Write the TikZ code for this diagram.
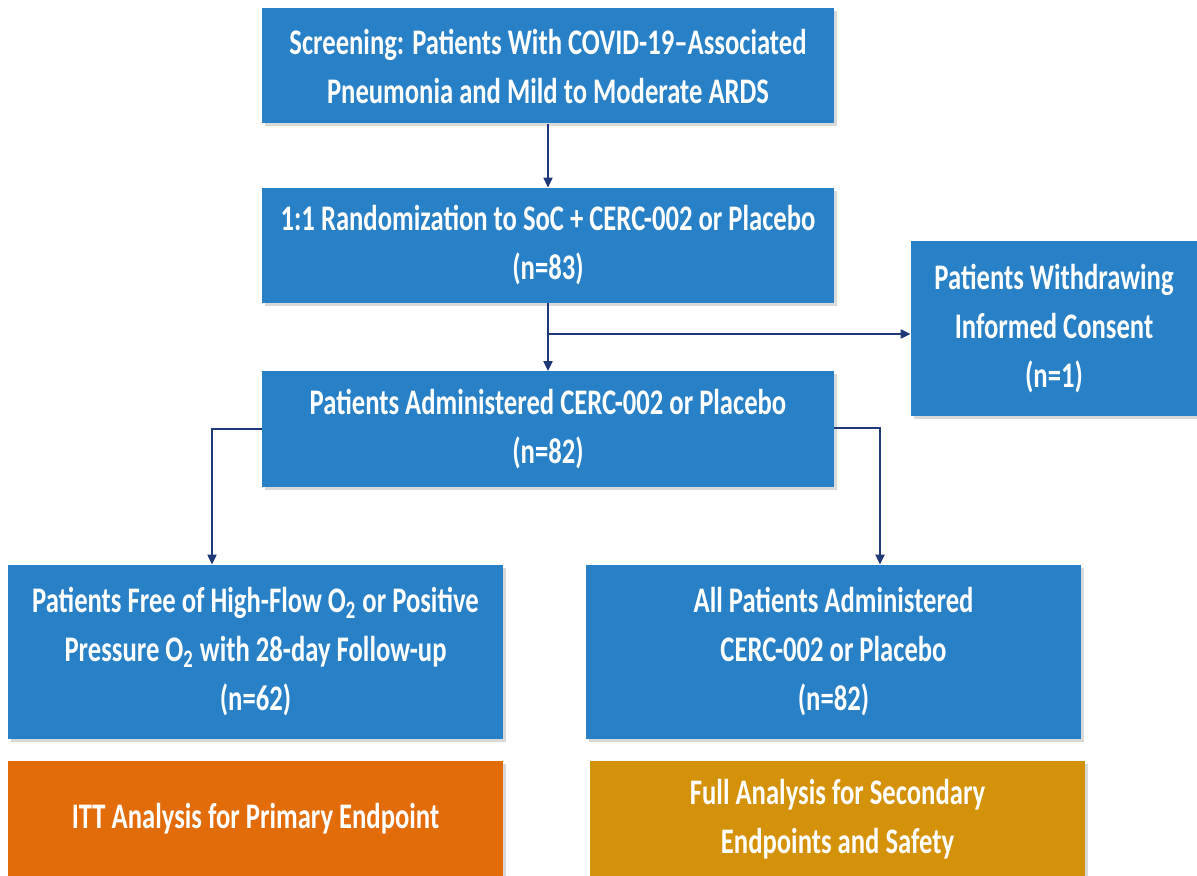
\documentclass[tikz,border=0pt]{standalone}
\usepackage{fontspec}
\setmainfont[FakeStretch=0.74]{Carlito}
\usetikzlibrary{arrows.meta,shadows}
\definecolor{boxblue}{RGB}{40,129,198}
\definecolor{ittorange}{RGB}{227,108,10}
\definecolor{fullgold}{RGB}{212,146,10}
\definecolor{arrnavy}{RGB}{31,56,120}
\begin{document}
\begin{tikzpicture}[x=0.5pt,y=-0.5pt,
	every node/.style={fill=boxblue,text=white,align=center,inner sep=0pt,
		font=\fontsize{18}{24.5}\selectfont\bfseries,
		drop shadow={shadow xshift=1.5pt,shadow yshift=-1.5pt,opacity=0.3}},
	wide/.style={minimum width=286pt,minimum height=57.5pt},
	half/.style={minimum width=247.5pt,minimum height=87pt},
	low/.style={minimum width=247.5pt,minimum height=58pt},
	arr/.style={draw=arrnavy,line width=1pt,-{Triangle[length=5pt,width=4.5pt]}}]
	\useasboundingbox (0,0) rectangle (1197,876);
	\node[wide] (scr) at (548,66) {Screening: Patients With COVID-19--Associated\\Pneumonia and Mild to Moderate ARDS};
	\node[wide] (rand) at (548,245.5) {1:1 Randomization to SoC + CERC-002 or Placebo\\(n=83)};
	\node[wide] (adm) at (548,429) {Patients Administered CERC-002 or Placebo\\(n=82)};
	\node[minimum width=143pt,minimum height=87.5pt] (wd) at (1054,328.5) {Patients Withdrawing\\Informed Consent\\(n=1)};
	\node[half] (free) at (255.5,652) {Patients Free of High-Flow O\textsubscript{2} or Positive\\Pressure O\textsubscript{2} with 28-day Follow-up\\(n=62)};
	\node[half] (all) at (833.5,652) {All Patients Administered\\CERC-002 or Placebo\\(n=82)};
	\node[low,fill=ittorange] (itt) at (255.5,819) {ITT Analysis for Primary Endpoint};
	\node[low,fill=fullgold] (full) at (837.5,819) {Full Analysis for Secondary\\Endpoints and Safety};

	\coordinate (br) at (548,334);
	\draw[arr] (scr) -- (rand);
	\draw[arr] (rand) -- (adm);
	\draw[arr] (br) -- (br -| wd.west);
	\draw[arr] (adm.west) -| ([xshift=-21.75pt]free.north);
	\draw[arr] ([yshift=0.5pt]adm.east) -| ([xshift=23.25pt]all.north);
\end{tikzpicture}
\end{document}
